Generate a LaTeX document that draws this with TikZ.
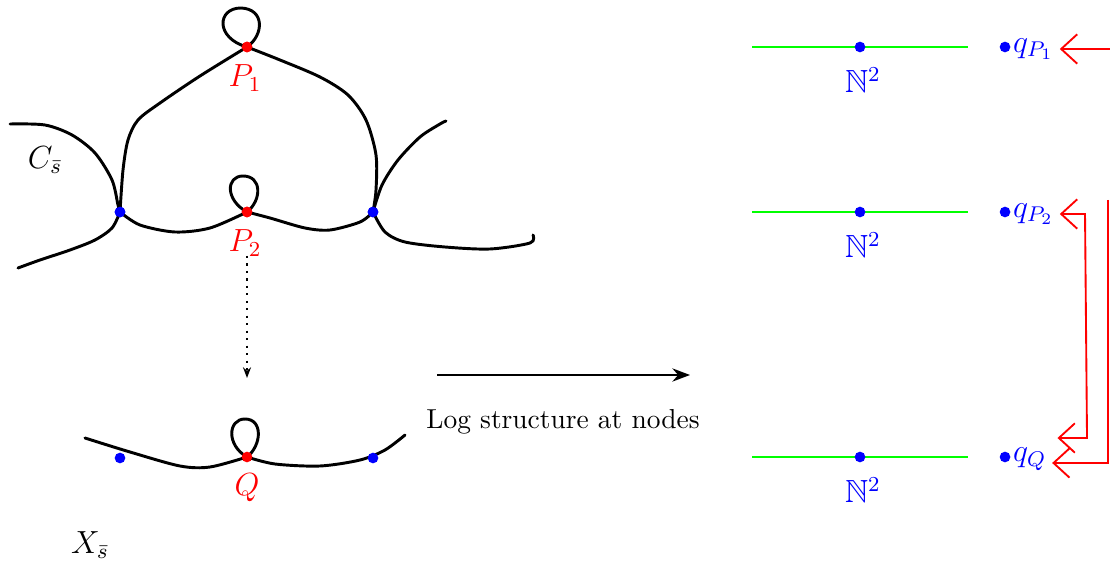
\documentclass[tikz,border=0pt]{standalone}
\usepackage{amsmath,amssymb}
\usetikzlibrary{arrows.meta}

\begin{document}
\begin{tikzpicture}[x=0.375pt,y=-0.375pt,>=Stealth,
 curve/.style={line width=1.1pt,line cap=round,line join=round},
 rdot/.style={circle,fill=red,inner sep=0pt,minimum size=4pt},
 bdot/.style={circle,fill=blue,inner sep=0pt,minimum size=4pt},
 lbl/.style={font=\fontsize{12}{14}\selectfont},
 glin/.style={green,line width=1.1pt},
 rlin/.style={red,line width=0.7pt},
 barb/.tip={Straight Barb[length=6pt,width=11pt]},
 redarr/.style={rlin,-barb}]
 \useasboundingbox (0,0) rectangle (1110,562);
 \clip (0,0) rectangle (1110,562);
 % the curve C
 \node[bdot] (L) at (120,212) {};
 \node[bdot] (R) at (373,212) {};
 \node[rdot] (P1) at (247,47) {};
 \node[rdot] (P2) at (247,212) {};
 \draw[curve] plot[smooth] coordinates {(10,124) (45,125) (72,135) (95,153) (112,180) (118,205) (120,212)};
 \draw[curve] plot[smooth] coordinates {(120,212) (112,228) (95,240) (70,250) (40,260) (18,268)};
 \draw[curve] plot[smooth] coordinates {(120,212) (123,170) (128,140) (138,120) (160,103) (200,76) (247,47)};
 \draw[curve] plot[smooth] coordinates {(247,47) (280,60) (320,77) (348,95) (366,120) (376,155) (376,190) (373,212)};
 \draw[curve] plot[smooth] coordinates {(120,212) (140,225) (175,232) (210,228) (247,212)};
 \draw[curve] plot[smooth] coordinates {(247,212) (270,218) (305,228) (330,230) (360,222) (373,212)};
 \draw[curve] plot[smooth] coordinates {(373,212) (382,185) (398,160) (420,137) (440,124) (446,121)};
 \draw[curve] plot[smooth] coordinates {(373,212) (385,232) (405,242) (445,247) (490,249) (530,243) (533,235)};
 \draw[curve] (247,47) .. controls (264,35) and (265,9) .. (241,8) .. controls (217,8) and (215,38) .. (247,47);
 \draw[curve] (247,212) .. controls (262,200) and (262,176) .. (243,176) .. controls (226,176) and (225,200) .. (247,212);
 \node[bdot] at (L) {};
 \node[bdot] at (R) {};
 \node[rdot] at (P1) {};
 \node[rdot] at (P2) {};
 \node[lbl,red] (P1l) at (245,78) {$P_1$};
 \node[lbl,red] (P2l) at (245,243) {$P_2$};
 \node[lbl] (Cs) at (45,160) {$C_{\bar{s}}$};
 % the curve X
 \draw[curve] plot[smooth] coordinates {(85,438) (130,452) (180,466) (210,467) (247,457)};
 \draw[curve] plot[smooth] coordinates {(247,457) (275,464) (320,466) (360,460) (385,450) (405,435)};
 \draw[curve] (247,457) .. controls (262,445) and (263,419) .. (245,419) .. controls (228,419) and (226,445) .. (247,457);
 \node[bdot] (QL) at (120,458) {};
 \node[bdot] (QR) at (373,458) {};
 \node[rdot] (Q) at (247,457) {};
 \node[lbl,red] (Ql) at (247,488) {$Q$};
 \node[lbl] (Xs) at (90,545) {$X_{\bar{s}}$};
 \coordinate (dtop) at (247,256);
 \coordinate (dbot) at (247,378);
 \draw[dotted,thick,-{Stealth[length=4pt]}] (dtop) -- (dbot);
 % map
 \coordinate (mstart) at (437,375);
 \coordinate (mend) at (690,375);
 \draw[line width=0.8pt,->] (mstart) -- (mend);
 \node[font=\fontsize{10.3}{12}\selectfont] (mlbl) at (563,422) {Log structure at nodes};
 % log structures
 \foreach \y/\n/\q in {47/1/P_1,212/2/P_2,457/3/Q}{
  \coordinate (gl\n) at (752,\y);
  \coordinate (gr\n) at (968,\y);
  \draw[glin] (gl\n) -- (gr\n);
  \node[bdot] (nd\n) at (860,\y) {};
  \node[lbl,blue] (N\n) at (863,\y+33) {$\mathbb{N}^2$};
  \node[bdot] (qd\n) at (1005,\y) {};
  \node[lbl,blue,anchor=west,inner sep=1pt] (q\n) at (1010,\y+2) {$q_{\q}$};
 }
 \coordinate (rin1) at (1130,0 |- q1.east);
 \draw[redarr] (rin1) -- ([xshift=1pt]q1.east);
 \coordinate (rb1) at (1085,0 |- q2.east);
 \coordinate (rb2) at (1087,438);
 \draw[rlin,barb-barb] ([xshift=1pt]q2.east) -- (rb1) -- (rb2) -- ([xshift=3pt]q3.east |- rb2);
 \coordinate (ro1) at (1108,200);
 \coordinate (ro2) at (1108,463);
 \draw[redarr] (ro1) -- (ro2) -- ([xshift=1pt]q3.east |- ro2);
\end{tikzpicture}
\end{document}
